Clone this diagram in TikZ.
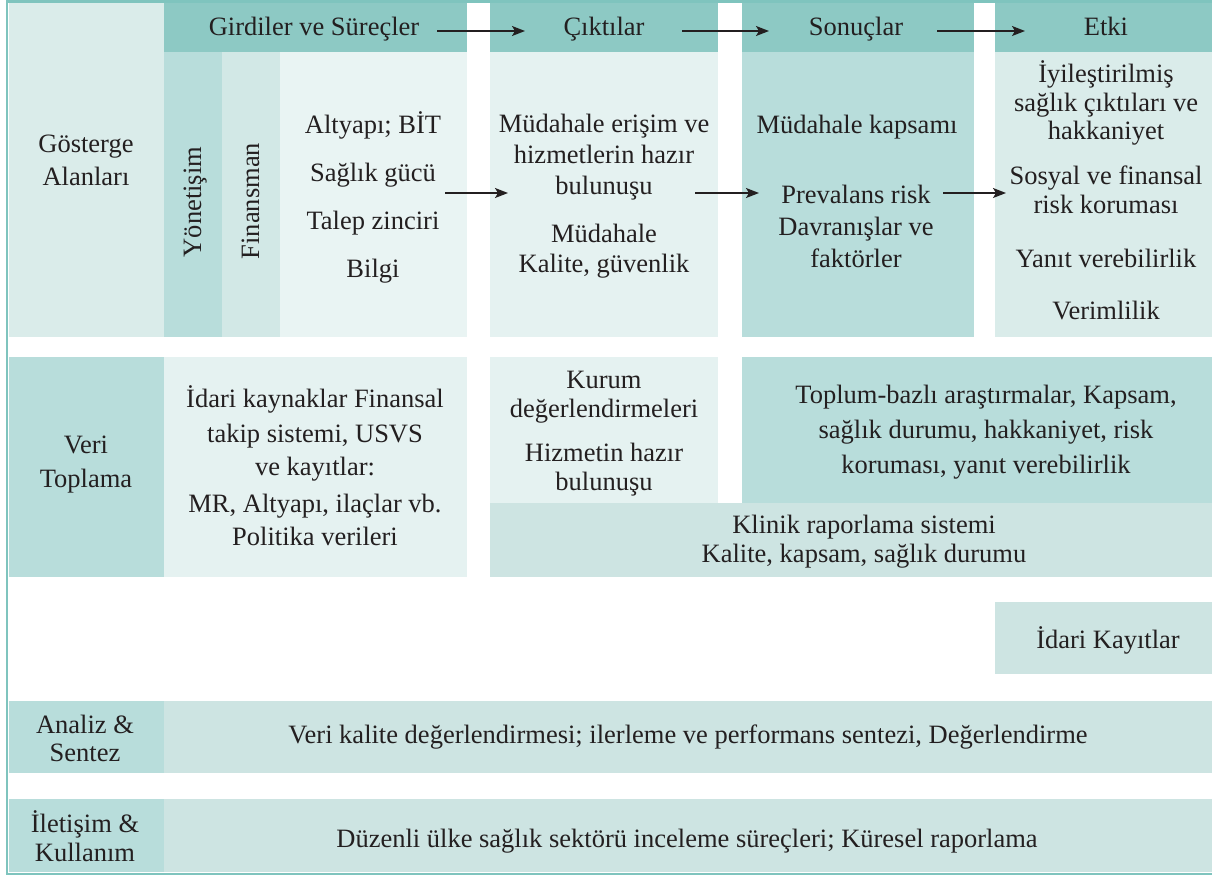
\documentclass[tikz,border=0pt]{standalone}
\usepackage{fontspec}
\setmainfont{Liberation Serif}
\usetikzlibrary{arrows.meta}
\definecolor{hdr}{HTML}{8DC9C4}
\definecolor{cpale}{HTML}{DAECEA}
\definecolor{cmid}{HTML}{B8DDDB}
\definecolor{cfin}{HTML}{D2E8E6}
\definecolor{clight}{HTML}{E5F2F1}
\definecolor{cinput}{HTML}{E9F4F3}
\definecolor{cclin}{HTML}{CDE4E2}
\definecolor{frame}{HTML}{7FC4BE}
\definecolor{ink}{HTML}{231F20}
\begin{document}
\begin{tikzpicture}[x=1pt,y=-1pt,
  t/.style={font=\fontsize{26.5}{30}\selectfont, text=ink, inner sep=0pt, anchor=base, align=center},
  flow/.style={draw=ink, line width=1.5pt, -{Stealth[length=13pt,width=10pt,inset=3pt]}},
  framel/.style={draw=frame, line width=2.5pt}]
\useasboundingbox (0,0) rectangle (1212,876);
% ---------- boxes ----------
% top block
\fill[cpale]  (9,3) rectangle (164,337);
\fill[hdr]    (164,3) rectangle (467,52);
\fill[cmid]   (164,52) rectangle (222,337);
\fill[cfin]   (222,52) rectangle (280,337);
\fill[cinput] (280,52) rectangle (467,337);
\fill[hdr]    (490,3) rectangle (718,52);
\fill[clight] (490,52) rectangle (718,337);
\fill[hdr]    (742,3) rectangle (974,52);
\fill[cmid]   (742,52) rectangle (974,337);
\fill[hdr]    (995,3) rectangle (1212,52);
\fill[cpale]  (995,52) rectangle (1212,337);
% data collection
\fill[cmid]   (9,357) rectangle (164,577);
\fill[clight] (164,357) rectangle (467,577);
\fill[clight] (490,357) rectangle (718,503);
\fill[cmid]   (742,357) rectangle (1212,503);
\fill[cclin]  (490,503) rectangle (1212,577);
\fill[cclin]  (995,602) rectangle (1212,674);
% analysis
\fill[cmid]   (9,701) rectangle (164,773);
\fill[cclin]  (164,701) rectangle (1212,773);
% communication
\fill[cmid]   (9,799) rectangle (164,872);
\fill[cclin]  (164,799) rectangle (1212,872);
% frame
\draw[framel] (1212,1.5) -- (7,1.5) -- (7,874) -- (1212,874);

% ---------- header ----------
\node[t] (hIn)  at (314,35) {Girdiler ve Süreçler};
\node[t] (hOut) at (604,35) {Çıktılar};
\node[t] (hRes) at (856,35) {Sonuçlar};
\node[t] (hImp) at (1106,35) {Etki};
\coordinate (ha1) at (437,31); \coordinate (hb1) at (525,31);
\coordinate (ha2) at (682,31); \coordinate (hb2) at (769,31);
\coordinate (ha3) at (937,31); \coordinate (hb3) at (1025,31);
\draw[flow] (ha1) -- (hb1);
\draw[flow] (ha2) -- (hb2);
\draw[flow] (ha3) -- (hb3);

% ---------- indicator domains ----------
\node[t] (gos1) at (86,152) {Gösterge};
\node[t] (gos2) at (86,185) {Alanları};
\node[t, rotate=90] (yon) at (201,202) {Yönetişim};
\node[t, rotate=90] (fin) at (259,201) {Finansman};
\node[t] (in1) at (373,133) {Altyapı; BİT};
\node[t] (in2) at (373,181) {Sağlık gücü};
\node[t] (in3) at (373,229) {Talep zinciri};
\node[t] (in4) at (373,277) {Bilgi};
\node[t] (out1) at (604,132) {Müdahale erişim ve};
\node[t] (out2) at (604,163) {hizmetlerin hazır};
\node[t] (out3) at (604,194) {bulunuşu};
\node[t] (out4) at (604,242) {Müdahale};
\node[t] (out5) at (604,272) {Kalite, güvenlik};
\node[t] (res1) at (857,133) {Müdahale kapsamı};
\node[t] (res2) at (856,203) {Prevalans risk};
\node[t] (res3) at (856,235) {Davranışlar ve};
\node[t] (res4) at (856,267) {faktörler};
\node[t] (imp1) at (1106,82) {İyileştirilmiş};
\node[t] (imp2) at (1106,111) {sağlık çıktıları ve};
\node[t] (imp3) at (1106,139) {hakkaniyet};
\node[t] (imp4) at (1106,184) {Sosyal ve finansal};
\node[t] (imp5) at (1106,213) {risk koruması};
\node[t] (imp6) at (1106,267) {Yanıt verebilirlik};
\node[t] (imp7) at (1106,319) {Verimlilik};
\coordinate (ba1) at (445,193); \coordinate (bb1) at (508,193);
\coordinate (ba2) at (695,193); \coordinate (bb2) at (759,193);
\coordinate (ba3) at (943,193); \coordinate (bb3) at (1006,193);
\draw[flow] (ba1) -- (bb1);
\draw[flow] (ba2) -- (bb2);
\draw[flow] (ba3) -- (bb3);

% ---------- data collection ----------
\node[t] (vt1) at (86,453) {Veri};
\node[t] (vt2) at (86,487) {Toplama};
\node[t] (ad1) at (315,407) {İdari kaynaklar Finansal};
\node[t] (ad2) at (315,442) {takip sistemi, USVS};
\node[t] (ad3) at (315,475) {ve kayıtlar:};
\node[t] (ad4) at (315,512) {MR, Altyapı, ilaçlar vb.};
\node[t] (ad5) at (315,545) {Politika verileri};
\node[t] (ku1) at (604,388) {Kurum};
\node[t] (ku2) at (604,417) {değerlendirmeleri};
\node[t] (ku3) at (604,461) {Hizmetin hazır};
\node[t] (ku4) at (604,490) {bulunuşu};
\node[t] (to1) at (986,403) {Toplum-bazlı araştırmalar, Kapsam,};
\node[t] (to2) at (986,438) {sağlık durumu, hakkaniyet, risk};
\node[t] (to3) at (986,473) {koruması, yanıt verebilirlik};
\node[t] (kl1) at (864,533) {Klinik raporlama sistemi};
\node[t] (kl2) at (864,562) {Kalite, kapsam, sağlık durumu};
\node[t] (ik)  at (1108,648) {İdari Kayıtlar};

% ---------- analysis ----------
\node[t] (an1) at (85,733) {Analiz \&};
\node[t] (an2) at (85,761) {Sentez};
\node[t] (anb) at (688,743) {Veri kalite değerlendirmesi; ilerleme ve performans sentezi, Değerlendirme};

% ---------- communication ----------
\node[t] (il1) at (85,832) {İletişim \&};
\node[t] (il2) at (85,861) {Kullanım};
\node[t] (ilb) at (687,847) {Düzenli ülke sağlık sektörü inceleme süreçleri; Küresel raporlama};
\end{tikzpicture}
\end{document}
